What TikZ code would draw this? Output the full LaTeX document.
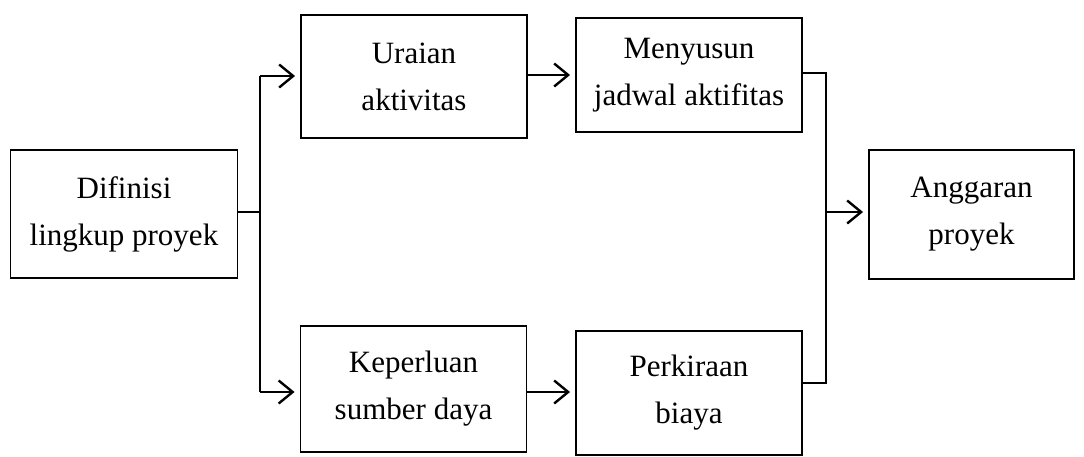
\documentclass[tikz,border=0pt]{standalone}
\usepackage{fontspec}
\setmainfont{Liberation Serif}
\usetikzlibrary{arrows.meta}
\begin{document}
\begin{tikzpicture}[x=1pt,y=-1pt,
  box/.style={draw,line width=1.9pt,inner sep=0pt,align=center,
    font=\fontsize{31}{47}\selectfont},
  conn/.style={line width=2.4pt},
  arr/.style={line width=2.4pt,-{Straight Barb[length=14pt,width=23pt,line width=2.4pt]},shorten >=5pt}]
\useasboundingbox (0,0) rectangle (1084,456);
\node[box,minimum width=227pt,minimum height=128pt] (dif) at (124,214) {Difinisi\\lingkup proyek};
\node[box,minimum width=226pt,minimum height=123pt] (ura) at (414,76.5) {Uraian\\aktivitas};
\node[box,minimum width=226pt,minimum height=114pt] (men) at (689,75) {Menyusun\\jadwal aktifitas};
\node[box,minimum width=205pt,minimum height=129pt] (ang) at (971.5,214.5) {Anggaran\\proyek};
\node[box,minimum width=226pt,minimum height=126pt] (kep) at (413.5,389) {Keperluan\\sumber daya};
\node[box,minimum width=226pt,minimum height=124pt] (per) at (689,393) {Perkiraan\\biaya};
\coordinate (sp) at (260,212);
\coordinate (sT) at (260,76);
\coordinate (sB) at (260,392);
\coordinate (mT) at (826,73);
\coordinate (mB) at (826,383);
\coordinate (mM) at (826,212);
\draw[conn] (dif.east |- sp) -- (sp);
\draw[conn] (sT) -- (sB);
\draw[arr] (sT) -- (sT -| ura.west);
\draw[arr] (sB) -- (sB -| kep.west);
\draw[arr] (ura.east |- men.west) -- (men.west);
\draw[arr] (kep.east |- sB) -- (sB -| per.west);
\draw[conn] (men.east |- mT) -- (mT) -- (mB) -- (mB -| per.east);
\draw[arr] (mM) -- (mM -| ang.west);
\end{tikzpicture}
\end{document}
